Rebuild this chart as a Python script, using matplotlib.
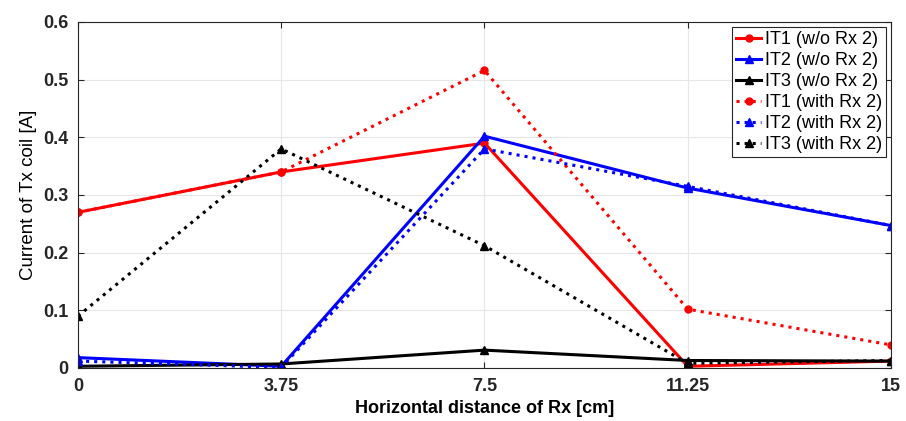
import matplotlib
matplotlib.use("Agg")
import matplotlib.pyplot as plt

plt.rcParams['font.family'] = ['Liberation Sans', 'DejaVu Sans']

distance = [0, 3.75, 7.5, 11.25, 15]
tick_labels = ["0", "3.75", "7.5", "11.25", "15"]

it1_wo = [0.270, 0.340, 0.390, 0.003, 0.012]
it2_wo = [0.018, 0.003, 0.402, 0.312, 0.247]
it3_wo = [0.003, 0.007, 0.031, 0.013, 0.012]
it1_with = [0.270, 0.340, 0.516, 0.102, 0.040]
it2_with = [0.012, 0.001, 0.380, 0.315, 0.247]
it3_with = [0.090, 0.380, 0.212, 0.008, 0.013]

fig = plt.figure(figsize=(9.06, 4.21), dpi=100)
ax = fig.add_axes([78 / 906, 53 / 421, 813 / 906, 346 / 421])

lw = 2.2
ax.plot(distance, it1_wo, '-o', color='red', lw=lw, ms=5, label='IT1 (w/o Rx 2)')
ax.plot(distance, it2_wo, '-^', color='blue', lw=lw, ms=6, label='IT2 (w/o Rx 2)')
ax.plot(distance, it3_wo, '-^', color='black', lw=lw, ms=6, label='IT3 (w/o Rx 2)')
ax.plot(distance, it1_with, ':o', color='red', lw=lw, ms=5, label='IT1 (with Rx 2)')
ax.plot(distance, it2_with, ':^', color='blue', lw=lw, ms=6, label='IT2 (with Rx 2)')
ax.plot(distance, it3_with, ':^', color='black', lw=lw, ms=6, label='IT3 (with Rx 2)')

ax.set_xlim(0, 15)
ax.set_ylim(0, 0.6)
ax.set_xticks(distance)
ax.set_xticklabels(tick_labels)
ax.set_yticks([0, 0.1, 0.2, 0.3, 0.4, 0.5, 0.6])
ax.set_yticklabels(["0", "0.1", "0.2", "0.3", "0.4", "0.5", "0.6"])
ax.tick_params(labelsize=13, direction='in', length=4, colors='#262626',
               top=True, right=True, pad=7)
for lab in ax.get_xticklabels() + ax.get_yticklabels():
    lab.set_fontweight('bold')
ax.grid(True, color='#e6e6e6', lw=0.8)
for sp in ax.spines.values():
    sp.set_color('#262626')
    sp.set_linewidth(0.8)

ax.set_xlabel('Horizontal distance of Rx [cm]', fontsize=13, fontweight='bold', labelpad=4)
ax.set_ylabel('Current of Tx coil [A]', fontsize=13.5)

leg = ax.legend(loc='upper right', fontsize=13, fancybox=False, framealpha=1,
                edgecolor='#262626', handlelength=1.4, handletextpad=0.2,
                borderpad=0.2, labelspacing=0.22, borderaxespad=0.3)
leg.get_frame().set_linewidth(0.8)

fig.savefig('out.png', dpi=100)
